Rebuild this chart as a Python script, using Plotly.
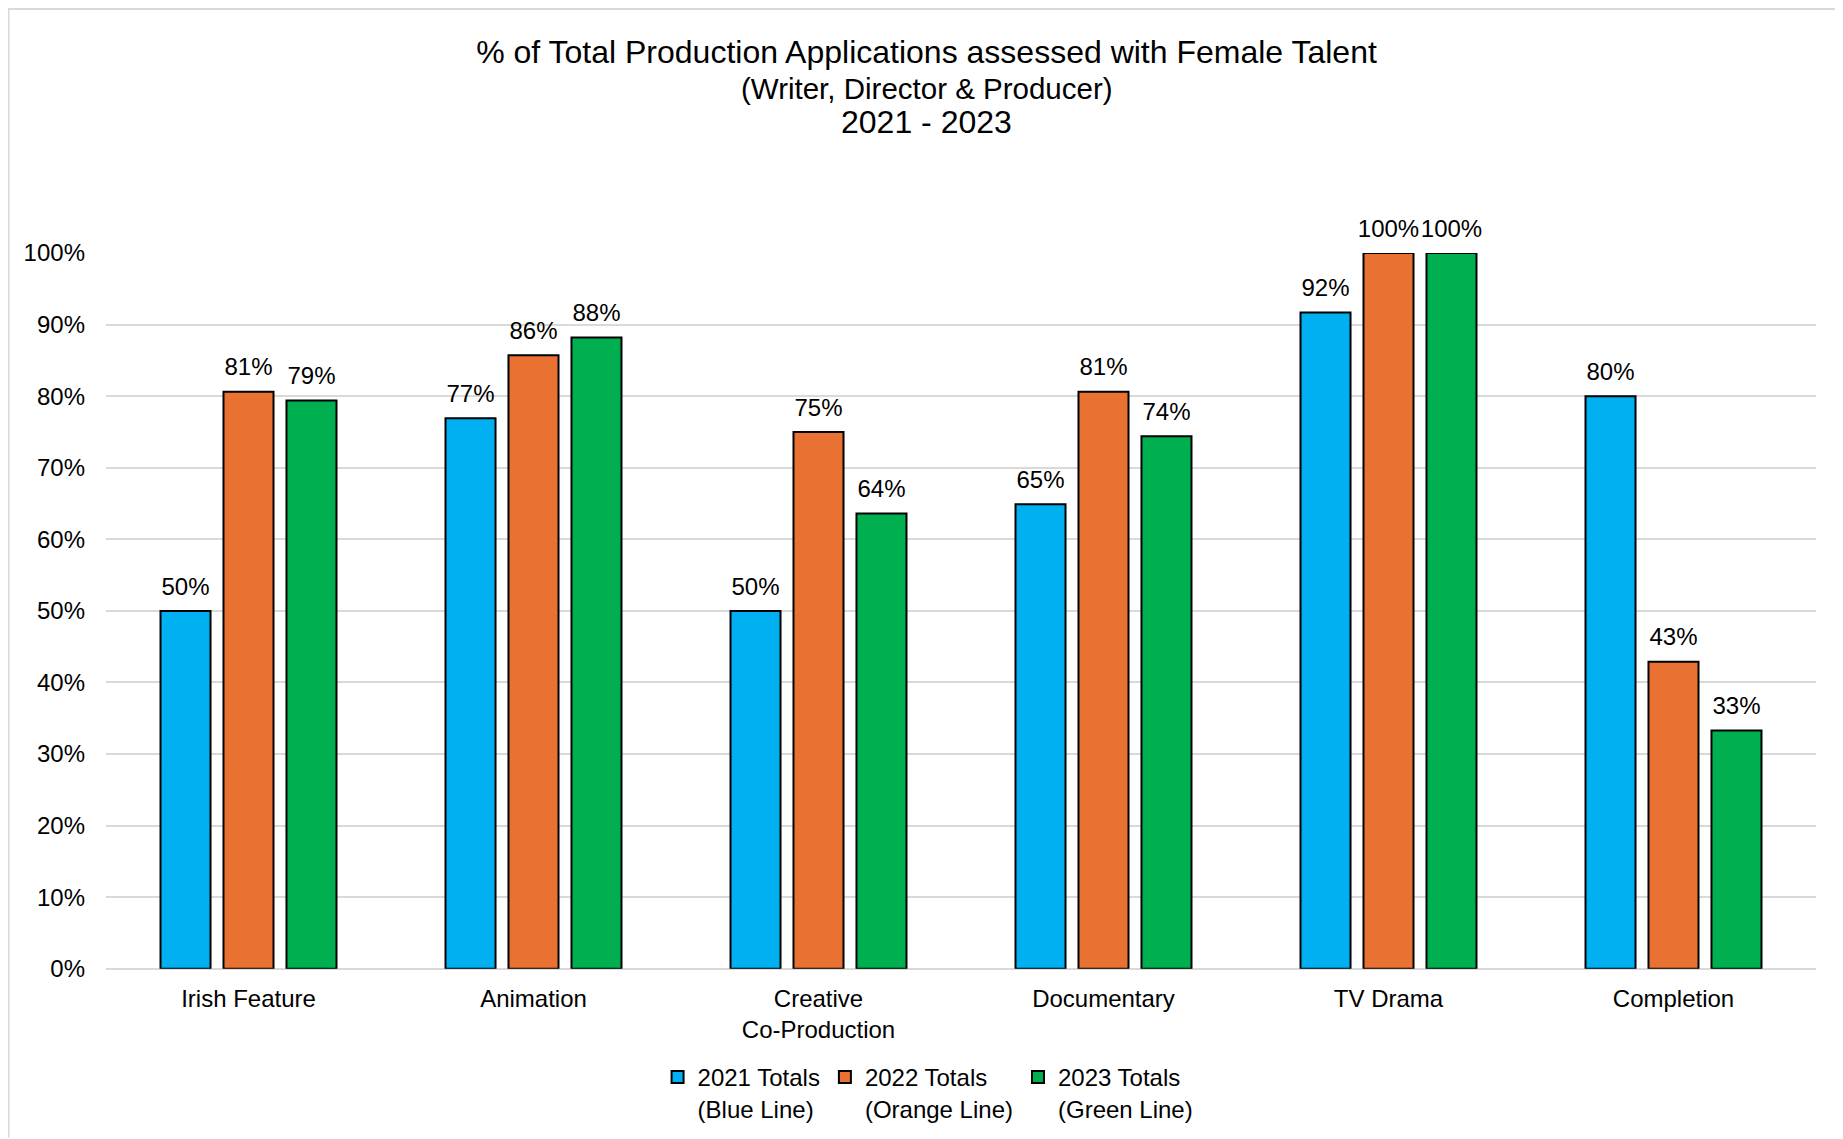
import plotly.graph_objects as go

categories = ["Irish Feature", "Animation", "Creative<br>Co-Production", "Documentary", "TV Drama", "Completion"]
series_names = ["2021 Totals<br>(Blue Line)", "2022 Totals<br>(Orange Line)", "2023 Totals<br>(Green Line)"]
values_2021 = [0.50, 0.769, 0.50, 0.649, 0.917, 0.80]
values_2022 = [0.806, 0.857, 0.75, 0.806, 1.00, 0.429]
values_2023 = [0.794, 0.882, 0.636, 0.744, 1.00, 0.333]
colors = ["#00B0F0", "#E97132", "#00B050"]
y_ticks = [0, 0.1, 0.2, 0.3, 0.4, 0.5, 0.6, 0.7, 0.8, 0.9, 1.0]
title_lines = ["% of Total Production Applications assessed with Female Talent",
               "(Writer, Director & Producer)", "2021 - 2023"]

FONT = "Liberation Sans, Arial, sans-serif"
W, H = 1835, 1131
L, R, T, B = 98, 27, 245, 169
GAP = 0.337
TITLE_CX = 918.5

pw = W - L - R
ph = H - T - B
def px_x(p):
    return (p - L) / pw
def px_y(p):
    return (H - B - p) / ph

fig = go.Figure()
for name, vals, col in zip(series_names, [values_2021, values_2022, values_2023], colors):
    fig.add_trace(go.Bar(
        x=categories, y=vals, name=name,
        marker=dict(color=col, line=dict(color="black", width=2)),
        hoverinfo="skip",
    ))
for name, vals in zip(series_names, [values_2021, values_2022, values_2023]):
    fig.add_trace(go.Scatter(
        x=categories, y=vals, mode="markers+text", showlegend=False,
        marker=dict(size=15, color="rgba(0,0,0,0)"),
        texttemplate="%{y:.0%}", textposition="top center",
        textfont=dict(size=24, color="black", family=FONT),
        cliponaxis=False, hoverinfo="skip",
    ))

annotations = []
for txt, yc, fs in zip(title_lines[1:], [79.8, 113.7], [29.5, 32]):
    annotations.append(dict(text=txt, xref="paper", yref="paper", x=px_x(TITLE_CX), y=px_y(yc),
                            xanchor="center", yanchor="middle", showarrow=False,
                            font=dict(size=fs, family=FONT, color="black")))

fig.update_layout(
    width=W, height=H,
    margin=dict(l=L, r=R, t=T, b=B),
    paper_bgcolor="white", plot_bgcolor="white",
    font=dict(family=FONT, size=24, color="black"),
    barmode="group", bargap=GAP, bargroupgap=0.206,
    scattermode="group", scattergap=GAP,
    title=dict(
        text=title_lines[0],
        x=TITLE_CX / W, xref="container", xanchor="center",
        y=1 - 43.7 / H, yref="container", yanchor="middle",
        font=dict(size=32, family=FONT, color="black"),
    ),
    annotations=annotations,
    xaxis=dict(showgrid=False, showline=False, ticks="", ticklabelstandoff=13,
               tickfont=dict(size=24, color="black")),
    yaxis=dict(range=[0, 1], tickvals=y_ticks, tickformat=".0%",
               showgrid=True, gridcolor="#D9D9D9", gridwidth=2,
               zeroline=True, zerolinecolor="#D9D9D9", zerolinewidth=2,
               showline=False, ticks="", ticklabelstandoff=20,
               tickfont=dict(size=24, color="black")),
    legend=dict(orientation="h", xref="container", x=0.5014, xanchor="center",
                yref="container", y=1 - 1047 / H, yanchor="top",
                valign="top", font=dict(size=24, color="black"),
                bgcolor="rgba(0,0,0,0)"),
    shapes=[
        dict(type="line", xref="paper", yref="paper", x0=px_x(0), x1=px_x(W), y0=px_y(0.5), y1=px_y(0.5),
             line=dict(color="#D9D9D9", width=2)),
        dict(type="line", xref="paper", yref="paper", x0=px_x(0.5), x1=px_x(0.5), y0=px_y(0), y1=px_y(H),
             line=dict(color="#D9D9D9", width=2)),
    ],
)

fig.write_html("out.html")
